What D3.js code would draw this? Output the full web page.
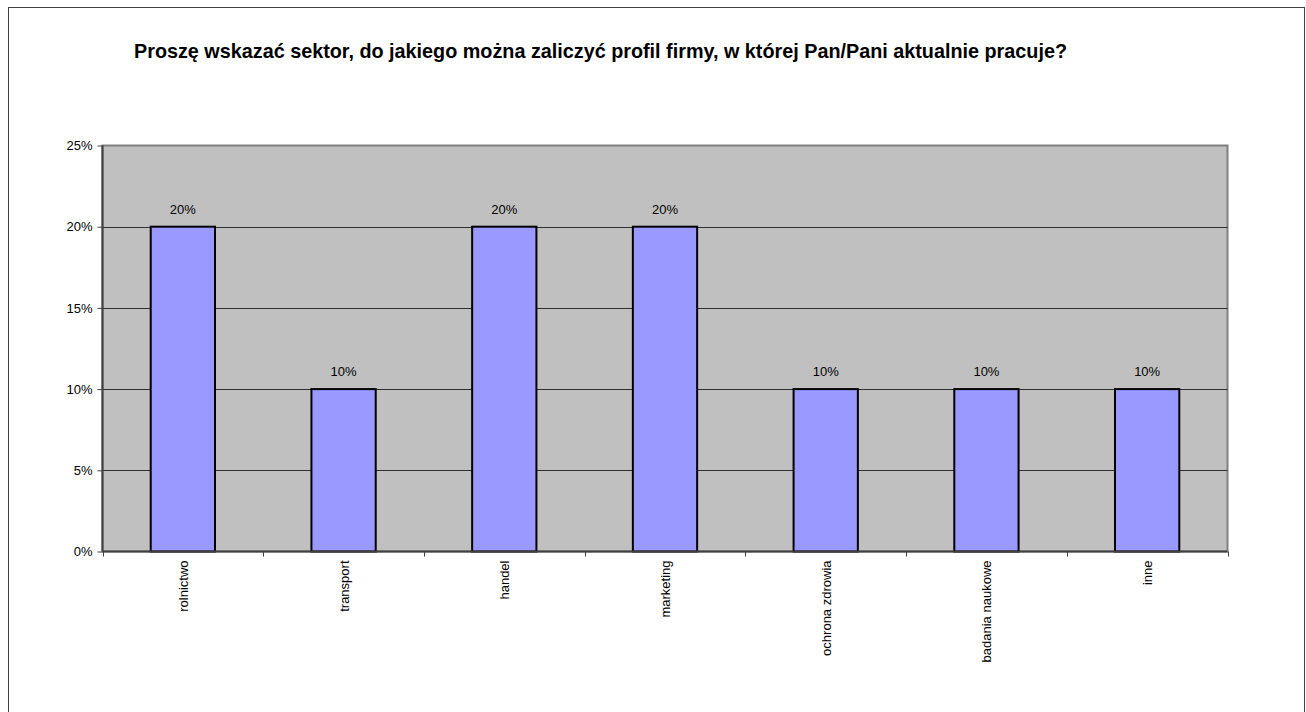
<!DOCTYPE html>
<html><head><meta charset="utf-8">
<script src="https://cdn.jsdelivr.net/npm/d3@7"></script>
<style>body{margin:0;background:#fff}svg{display:block}text{font-family:"Liberation Sans",Arial,sans-serif}</style>
</head><body><svg id="c" width="1306" height="712"></svg>
<script>
const categories = ["rolnictwo","transport","handel","marketing","ochrona zdrowia","badania naukowe","inne"];
const values = [0.20,0.10,0.20,0.20,0.10,0.10,0.10];
const yTicks = [0,0.05,0.10,0.15,0.20,0.25];
const title = "Proszę wskazać sektor, do jakiego można zaliczyć profil firmy, w której Pan/Pani aktualnie pracuje?";

const svg = d3.select("#c");
const m = {l:102.5, r:1227.5, t:145.5, b:551.5};
svg.append("rect").attr("x",8.5).attr("y",7.5).attr("width",1296).attr("height",720).attr("fill","none").attr("stroke","#404040");
svg.append("text").attr("x",134).attr("y",58).attr("font-size",19.8).attr("font-weight","bold").text(title);

const x = d3.scaleBand().domain(categories).range([m.l,m.r]);
const y = d3.scaleLinear().domain([0,0.25]).range([m.b,m.t]);

svg.append("rect").attr("x",m.l).attr("y",m.t).attr("width",m.r-m.l).attr("height",m.b-m.t).attr("fill","#c0c0c0").attr("stroke","#808080").attr("stroke-width",2);
svg.append("g").selectAll("line").data(yTicks.filter(d=>d>0 && d<0.25)).join("line")
  .attr("x1",m.l).attr("x2",m.r).attr("y1",d=>Math.round(y(d))+0.5).attr("y2",d=>Math.round(y(d))+0.5).attr("stroke","#303030");

const bw = x.bandwidth()*0.4;
svg.append("g").selectAll("rect").data(values).join("rect")
  .attr("x",(d,i)=>x(categories[i])+x.bandwidth()/2-bw/2).attr("width",bw)
  .attr("y",d=>y(d)).attr("height",d=>y(0)-y(d))
  .attr("fill","#9999ff").attr("stroke","#000").attr("stroke-width",2);
svg.append("g").selectAll("text").data(values).join("text")
  .attr("x",(d,i)=>x(categories[i])+x.bandwidth()/2).attr("y",d=>y(d)-13)
  .attr("text-anchor","middle").attr("font-size",13).text(d=>d3.format(".0%")(d));

const ya = d3.axisLeft(y).tickValues(yTicks).tickFormat(d3.format(".0%")).tickSize(5).tickPadding(5);
const gy = svg.append("g").attr("transform",`translate(${m.l},0)`).call(ya);
gy.select(".domain").attr("stroke","#404040").attr("stroke-width",2).attr("d",`M0,${m.t}V${m.b}`);
gy.selectAll(".tick line").attr("stroke","#404040");
gy.selectAll("text").attr("font-size",13).attr("font-family","Liberation Sans, Arial, sans-serif").attr("fill","#000");

const bounds = d3.range(categories.length+1).map(i=>m.l+i*x.step());
svg.append("g").selectAll("line").data(bounds).join("line")
  .attr("x1",d=>Math.round(d)+0.5).attr("x2",d=>Math.round(d)+0.5).attr("y1",m.b).attr("y2",m.b+5).attr("stroke","#404040");
svg.append("line").attr("x1",m.l).attr("x2",m.r).attr("y1",m.b).attr("y2",m.b).attr("stroke","#404040").attr("stroke-width",2);

svg.append("g").selectAll("text").data(categories).join("text")
  .attr("transform",d=>`translate(${x(d)+x.bandwidth()/2+5},${m.b+9}) rotate(-90)`)
  .attr("text-anchor","end").attr("font-size",13).text(d=>d);
</script></body></html>
